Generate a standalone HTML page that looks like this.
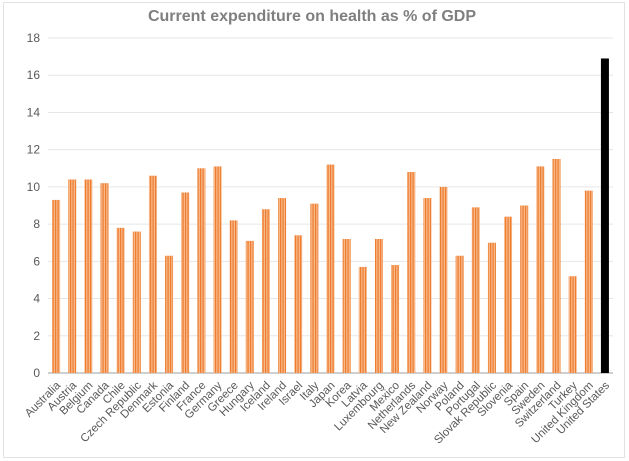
<!DOCTYPE html>
<html><head><meta charset="utf-8"><style>
body{margin:0;background:#fff;font-family:"Liberation Sans",sans-serif}
svg{display:block}
</style></head><body>
<svg id="chart" width="629" height="461" viewBox="0 0 629 461">
<defs>
<pattern id="stripes" width="2.5" height="4" patternUnits="userSpaceOnUse">
<rect width="2.5" height="4" fill="#f7b88a"/><rect width="1.2" height="4" fill="#ee7d2f"/>
</pattern>
</defs>
<rect x="3.5" y="2.5" width="621" height="455" fill="none" stroke="#e2e2e2"/>
<text x="312" y="21" text-anchor="middle" font-size="16" font-weight="bold" fill="#7f7f7f">Current expenditure on health as % of GDP</text>
<g id="grid"></g><g id="bars"></g><g id="labels"></g>
</svg>
<script>
const categories=["Australia","Austria","Belgium","Canada","Chile","Czech Republic","Denmark","Estonia","Finland","France","Germany","Greece","Hungary","Iceland","Ireland","Israel","Italy","Japan","Korea","Latvia","Luxembourg","Mexico","Netherlands","New Zealand","Norway","Poland","Portugal","Slovak Republic","Slovenia","Spain","Sweden","Switzerland","Turkey","United Kingdom","United States"];
const values=[9.3,10.4,10.4,10.2,7.8,7.6,10.6,6.3,9.7,11.0,11.1,8.2,7.1,8.8,9.4,7.4,9.1,11.2,7.2,5.7,7.2,5.8,10.8,9.4,10.0,6.3,8.9,7.0,8.4,9.0,11.1,11.5,5.2,9.8,16.9];
const yTicks=[0,2,4,6,8,10,12,14,16,18];
const NS="http://www.w3.org/2000/svg";
const x0=48,x1=613,yBase=373,yTop=38,yMax=18;
const step=(x1-x0)/categories.length;
const y=v=>yBase-(v/yMax)*(yBase-yTop);
const xc=i=>x0+step*(i+0.5);
const grid=document.getElementById('grid'),bars=document.getElementById('bars'),labels=document.getElementById('labels');
yTicks.forEach(t=>{
const l=document.createElementNS(NS,'line');
l.setAttribute('x1',x0);l.setAttribute('x2',x1);l.setAttribute('y1',y(t));l.setAttribute('y2',y(t));
l.setAttribute('stroke',t===0?'#bfbfbf':'#e6e6e6');l.setAttribute('stroke-width',t===0?1.5:1);


grid.appendChild(l);
const tx=document.createElementNS(NS,'text');
tx.setAttribute('x',40);tx.setAttribute('y',y(t)+4);tx.setAttribute('text-anchor','end');
tx.setAttribute('font-size','12');tx.setAttribute('fill','#595959');tx.textContent=t;


grid.appendChild(tx);
});
categories.forEach((c,i)=>{
const r=document.createElementNS(NS,'rect');
const w=8;
r.setAttribute('x',xc(i)-w/2);r.setAttribute('width',w);
r.setAttribute('y',y(values[i]));r.setAttribute('height',yBase-y(values[i]));
r.setAttribute('fill',c==='United States'?'#000':'url(#stripes)');


bars.appendChild(r);
const t=document.createElementNS(NS,'text');
const lx=xc(i)+5,ly=386;
t.setAttribute('x',lx);t.setAttribute('y',ly);t.setAttribute('text-anchor','end');
t.setAttribute('font-size','11.5');t.setAttribute('fill','#595959');
t.setAttribute('transform','rotate(-45 '+lx+' '+ly+')');
t.textContent=c;


labels.appendChild(t);
});
</script>
</body></html>
